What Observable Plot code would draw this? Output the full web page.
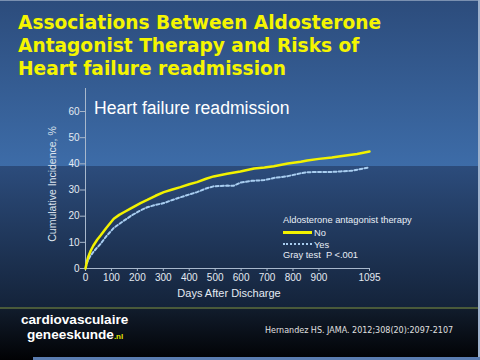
<!DOCTYPE html>
<html>
<head>
<meta charset="utf-8">
<script src="https://cdn.jsdelivr.net/npm/d3@7"></script>
<script src="https://cdn.jsdelivr.net/npm/@observablehq/plot@0.6"></script>
<style>
  html, body { margin: 0; padding: 0; background: #000; }
  #page { position: relative; width: 480px; height: 360px; overflow: hidden; font-family: "Liberation Sans", Arial, sans-serif; }
  .abs { position: absolute; white-space: nowrap; }
  #title { left: 18px; top: 11px; color: #f5f500; font-family: "DejaVu Sans", Verdana, sans-serif; font-weight: bold; font-size: 18.6px; line-height: 23px; }
  #panel { left: 94px; top: 98px; color: #ffffff; font-size: 17.6px; font-family: "Liberation Sans", Arial, sans-serif; }
  #ylab { left: 52px; top: 184px; color: #dde4ee; font-size: 10.5px; transform: translate(-50%, -50%) rotate(-90deg); }
  #xlab { left: 229px; top: 293px; color: #e4eaf2; font-size: 11px; transform: translate(-50%, -50%); }
  .leg { color: #e8eef6; font-size: 9.3px; }
  #brand { left: 21px; top: 312px; color: #ffffff; font-family: "Liberation Sans", Arial, sans-serif; font-weight: bold; font-size: 13.6px; line-height: 15px; }
  #cite { left: 265px; top: 326px; color: #e0e0e0; font-family: "DejaVu Sans", Verdana, sans-serif; font-size: 8px; }
</style>
</head>
<body>
<div id="page">
  <div class="abs" style="left:0;top:0;width:480px;height:166px;background:linear-gradient(#2c4c7c,#3d6ca8);"></div>
  <div class="abs" style="left:0;top:166px;width:480px;height:141px;background:linear-gradient(#2c4c7c,#14233a);"></div>
  <div class="abs" style="left:0;top:307px;width:480px;height:2px;background:#4a5a3a;"></div>
  <div class="abs" style="left:0;top:309px;width:480px;height:51px;background:linear-gradient(#111c2c,#010204);"></div>
  <div class="abs" style="left:0;top:0;width:480px;height:1px;background:#7a90b0;"></div>
  <div class="abs" style="left:478px;top:0;width:2px;height:360px;background:#9fb2cc;"></div>
  <div class="abs" style="left:33px;top:357px;width:447px;height:3px;background:#5a7cb0;"></div>
  <div id="chart" class="abs" style="left:0;top:0;"></div>
  <div id="title" class="abs">
    <div>Associations Between Aldosterone</div>
    <div>Antagonist Therapy and Risks of</div>
    <div>Heart failure readmission</div>
  </div>
  <div id="panel" class="abs">Heart failure readmission</div>
  <div id="ylab" class="abs">Cumulative Incidence, %</div>
  <div id="xlab" class="abs">Days After Discharge</div>
  <div class="abs leg" style="left:283px;top:215px;">Aldosterone antagonist therapy</div>
  <div class="abs" style="left:283px;top:231px;width:29px;height:3px;background:#f2f200;"></div>
  <div class="abs leg" style="left:314px;top:228px;">No</div>
  <div class="abs" style="left:283px;top:243px;width:29px;height:0;border-top:2.5px dotted #a8cdf0;"></div>
  <div class="abs leg" style="left:314px;top:240px;">Yes</div>
  <div class="abs leg" style="left:283px;top:250px;">Gray test&nbsp; P &lt;.001</div>
  <div id="brand" class="abs">
    <div>cardiovasculaire</div>
    <div style="padding-left:6px;">geneeskunde<span style="color:#e6e600;font-size:8px;">.nl</span></div>
  </div>
  <div id="cite" class="abs">Hernandez HS. JAMA. 2012;308(20):2097-2107</div>
</div>
<script>
const xTicks = [0, 100, 200, 300, 400, 500, 600, 700, 800, 900, 1095];
const yTicks = [0, 10, 20, 30, 40, 50, 60];
const seriesNames = ["No", "Yes"];

const noDays = [0, 5, 10, 20, 30, 45, 58, 80, 109, 130, 148, 175, 212, 238, 270, 302, 335, 366, 400, 430, 465, 494, 546, 597, 650, 690, 726, 780, 830, 855, 900, 950, 983, 1047, 1095];
const noPct  = [0, 2.5, 4.3, 6.8, 8.7, 11, 12.6, 15.5, 19, 20.5, 21.5, 23, 25, 26.2, 27.8, 29.2, 30.2, 31.1, 32.2, 33, 34.3, 35.2, 36.2, 37.1, 38.2, 38.6, 39.1, 40.1, 40.8, 41.3, 41.9, 42.4, 42.9, 43.8, 44.7];

const yesDays = [0, 5, 10, 19, 30, 45, 58, 80, 109, 130, 148, 180, 212, 238, 270, 302, 335, 366, 400, 430, 465, 494, 546, 570, 597, 640, 690, 726, 780, 830, 855, 900, 950, 983, 1030, 1070, 1095];
const yesPct  = [0, 1.8, 3.2, 4.8, 6.3, 8, 9.4, 12.3, 15.5, 17, 18.3, 20.4, 22.2, 23.4, 24.3, 25, 26.2, 27.2, 28.3, 29.2, 30.6, 31.4, 31.7, 31.6, 32.8, 33.5, 33.8, 34.6, 35.3, 36.4, 36.8, 36.9, 36.9, 37.1, 37.4, 38.2, 38.7];

const noData = noDays.map((d, i) => ({day: d, pct: noPct[i], series: seriesNames[0]}));
const yesData = yesDays.map((d, i) => ({day: d, pct: yesPct[i], series: seriesNames[1]}));

const chart = Plot.plot({
  width: 480,
  height: 360,
  marginLeft: 85,
  marginRight: 111,
  marginTop: 88,
  marginBottom: 92,
  style: {background: "transparent", color: "#dde4ee", fontFamily: "Liberation Sans, Arial, sans-serif", fontSize: "10px", overflow: "visible"},
  x: {domain: [0, 1095], label: null},
  y: {domain: [0, 68.8], label: null},
  marks: [
    Plot.axisX({ticks: xTicks, tickFormat: d => String(d), tickSize: 3, tickPadding: 2, label: null, stroke: "#a8b8cc", fill: "#e4eaf2", fontSize: 10}),
    Plot.axisY({ticks: yTicks, tickSize: 5, tickPadding: 1, label: null, stroke: "#a8b8cc", fill: "#e4eaf2", fontSize: 10}),
    Plot.ruleY([0], {stroke: "#a8b8cc", strokeWidth: 1}),
    Plot.ruleX([0], {stroke: "#a8b8cc", strokeWidth: 1}),
    Plot.line(yesData, {x: "day", y: "pct", stroke: "#a8cdf0", strokeWidth: 2, strokeDasharray: "3,2.2"}),
    Plot.line(noData, {x: "day", y: "pct", stroke: "#f2f200", strokeWidth: 2.5})
  ]
});
document.getElementById("chart").appendChild(chart);
</script>
</body>
</html>
